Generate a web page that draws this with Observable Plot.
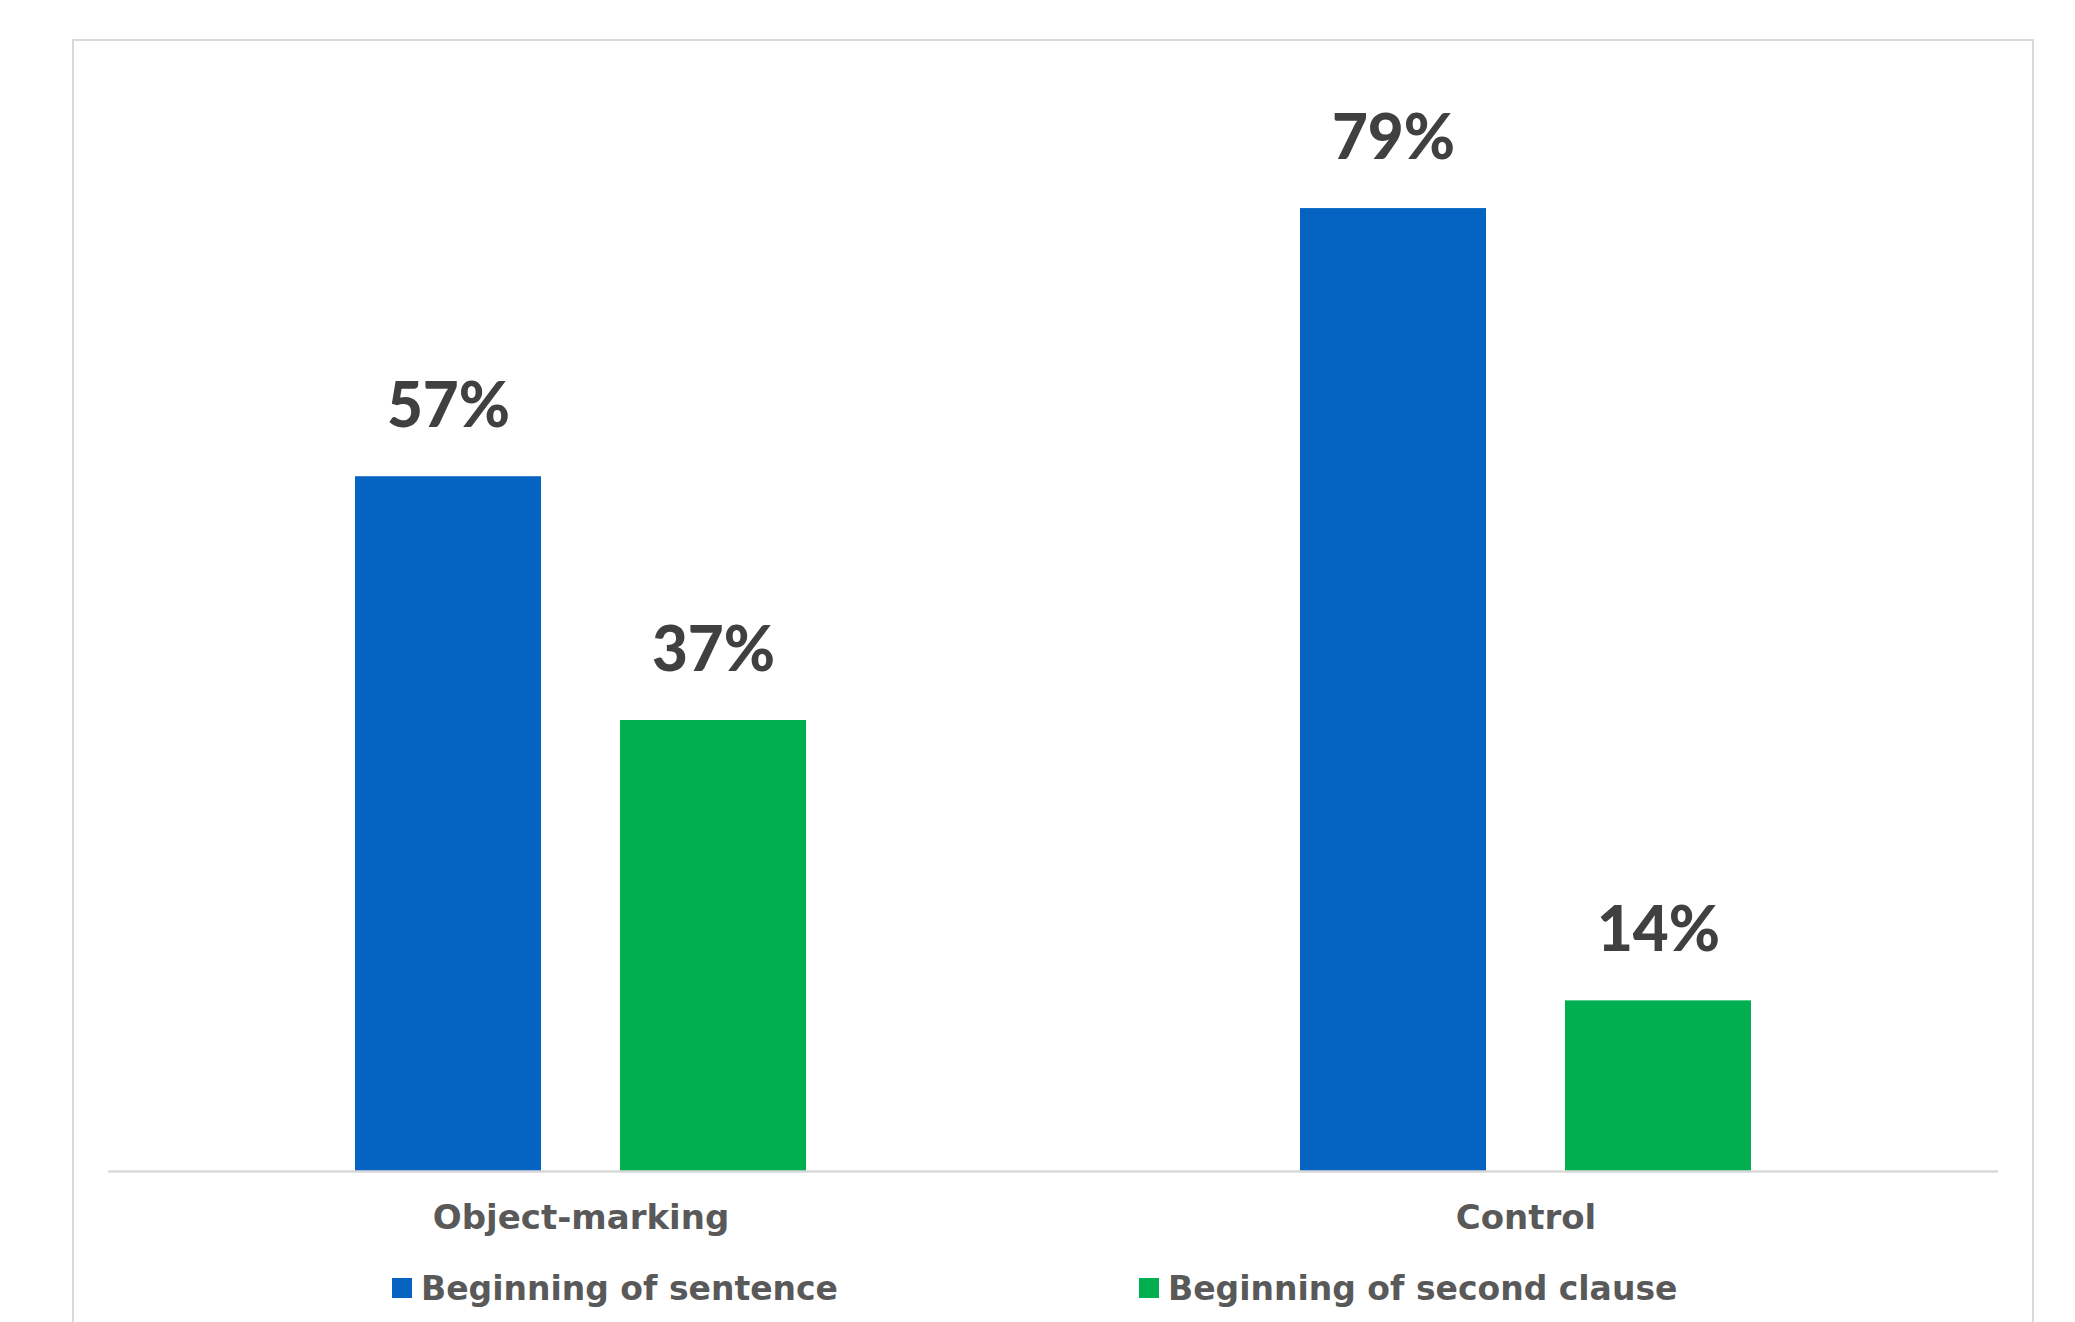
<!DOCTYPE html>
<html>
<head>
<meta charset="utf-8">
<script src="https://cdn.jsdelivr.net/npm/d3@7"></script>
<script src="https://cdn.jsdelivr.net/npm/@observablehq/plot@0.6"></script>
<style>
  html, body { margin: 0; padding: 0; background: #fff; overflow: hidden; }
  body { position: relative; width: 2075px; height: 1322px; font-family: Lato, "Open Sans", sans-serif; }
  #frame { position: absolute; left: 72px; top: 39px; width: 1962px; height: 1400px; border: 2px solid #d9d9d9; box-sizing: border-box; }
  #chart { position: absolute; left: 0; top: 0; }
  .leg-item { position: absolute; top: 1272px; height: 33px; font-family: "DejaVu Sans", sans-serif; font-size: 33px; line-height: 33px; font-weight: 700; color: #595959; white-space: nowrap; }
  .leg-swatch { position: absolute; width: 20px; height: 20px; }
</style>
</head>
<body>
<div id="frame"></div>
<div id="chart"></div>
<div id="legend"></div>
<script>
const categories = ["Object-marking", "Control"];
const series = ["Beginning of sentence", "Beginning of second clause"];
const objectMarkingValues = [57, 37];
const controlValues = [79, 14];
const seriesColors = ["#0563C1", "#00B050"];

const valuesByCategory = [objectMarkingValues, controlValues];
const data = [];
categories.forEach((c, i) => series.forEach((s, j) => data.push({category: c, series: s, value: valuesByCategory[i][j]})));

const chart = Plot.plot({
  width: 2075,
  height: 1250,
  marginLeft: 108,
  marginRight: 77,
  marginTop: 74,
  marginBottom: 79,
  style: {fontFamily: "Lato, 'Open Sans', sans-serif", background: "transparent", overflow: "visible"},
  fx: {domain: categories, padding: 0, label: null},
  x: {domain: series, paddingInner: 0.3, paddingOuter: 0.927, axis: null},
  y: {domain: [0, 90], axis: null},
  color: {domain: series, range: seriesColors},
  marks: [
    Plot.barY(data, {fx: "category", x: "series", y: "value", fill: "series"}),
    Plot.ruleY([0], {stroke: "#d9d9d9", strokeWidth: 2.5}),
    Plot.text(data, {fx: "category", x: "series", y: "value", text: d => d.value + "%", lineAnchor: "bottom", dy: -50, fontSize: 62, fontWeight: 900, fill: "#404040"}),
    Plot.axisFx({anchor: "bottom", tickSize: 0, tickPadding: 33, fontSize: 34, fontWeight: "bold", fontFamily: "DejaVu Sans, sans-serif", fill: "#595959", label: null})
  ]
});
document.getElementById("chart").appendChild(chart);

const legendLeft = [392, 1139];
const legend = document.getElementById("legend");
series.forEach((s, i) => {
  const sw = document.createElement("div");
  sw.className = "leg-swatch";
  sw.style.left = legendLeft[i] + "px";
  sw.style.top = "1278px";
  sw.style.background = seriesColors[i];
  legend.appendChild(sw);
  const it = document.createElement("div");
  it.className = "leg-item";
  it.style.left = (legendLeft[i] + 29) + "px";
  it.textContent = s;
  legend.appendChild(it);
});
</script>
</body>
</html>
